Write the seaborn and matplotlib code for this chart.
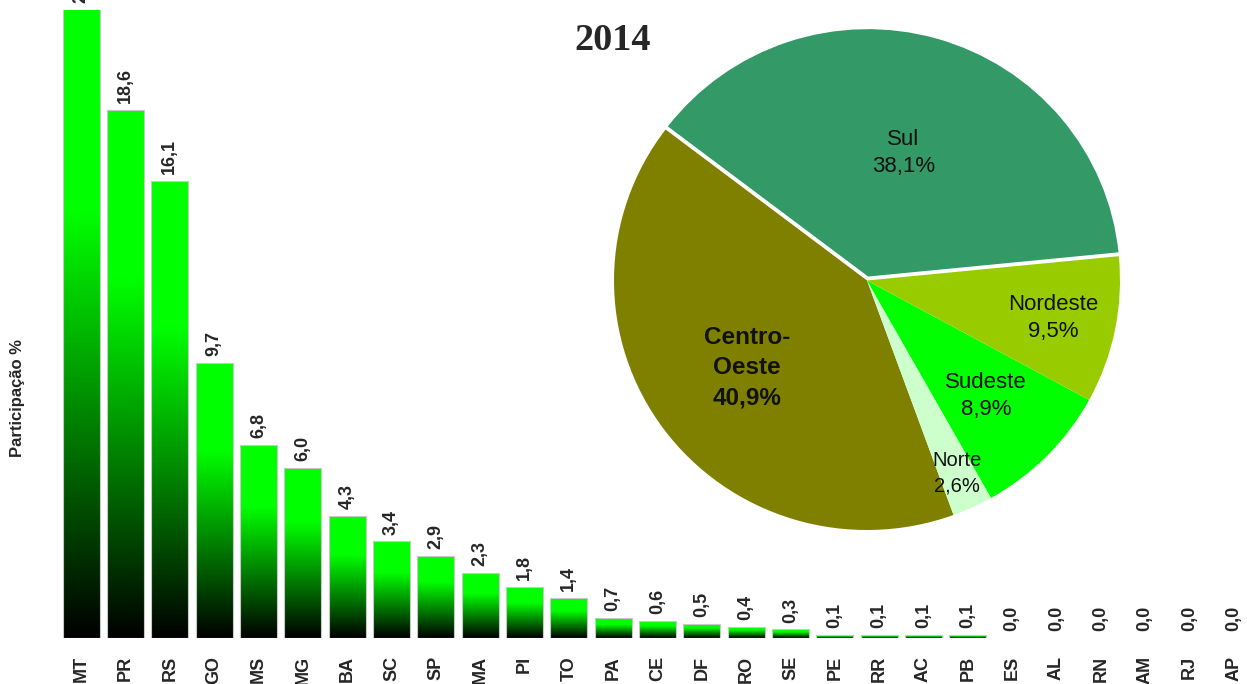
import numpy as np
import matplotlib
matplotlib.use("Agg")
import matplotlib.pyplot as plt
from matplotlib.colors import LinearSegmentedColormap
import seaborn as sns

# participação por estado (%)
states = ["MT", "PR", "RS", "GO", "MS", "MG", "BA", "SC", "SP", "MA", "PI", "TO", "PA", "CE",
          "DF", "RO", "SE", "PE", "RR", "AC", "PB", "ES", "AL", "RN", "AM", "RJ", "AP"]
shares = [23.9, 18.6, 16.1, 9.7, 6.8, 6.0, 4.3, 3.4, 2.9, 2.3, 1.8, 1.4, 0.7, 0.6,
          0.5, 0.4, 0.3, 0.1, 0.1, 0.1, 0.1, 0.0, 0.0, 0.0, 0.0, 0.0, 0.0]

# participação por região (%)
regions = ["Sul", "Centro-Oeste", "Norte", "Sudeste", "Nordeste"]
region_shares = [38.1, 40.9, 2.6, 8.9, 9.5]
region_colors = ["#339966", "#808000", "#CCFFCC", "#00FF00", "#99CC00"]

year = "2014"

sns.set_style("white")
plt.rcParams["font.family"] = ["Liberation Sans", "DejaVu Sans"]

W, H = 1247, 684
fig = plt.figure(figsize=(W / 100, H / 100), dpi=100)

# --- barras ---
ax = fig.add_axes([59 / W, 46 / H, 1197 / W, 628 / H])
ax.set_facecolor("none")
sns.barplot(x=states, y=shares, ax=ax, width=0.84, color="white")
ax.set_xlim(-0.5, len(states) - 0.5)
ax.set_ylim(0, 22.12)
top = ax.get_ylim()[1]

cmap = LinearSegmentedColormap.from_list("verde", [(0, "#000000"), (0.68, "#00FF00"), (1, "#00FF00")])
grad = np.linspace(0, 1, 256).reshape(-1, 1)
for patch, v in zip(ax.patches, shares):
    x0, w, h = patch.get_x(), patch.get_width(), patch.get_height()
    patch.set_facecolor("none")
    patch.set_zorder(3)
    if v > 0:
        patch.set_edgecolor("#c8c8c8")
        patch.set_linewidth(0.8)
        im = ax.imshow(grad, extent=[x0, x0 + w, 0, min(h, top)], origin="lower", cmap=cmap,
                       aspect="auto", zorder=2, interpolation="bilinear")
        im.set_clip_path(patch)
    else:
        patch.set_linewidth(0)

ax.set_xlim(-0.5, len(states) - 0.5)
ax.set_ylim(0, top)

for i, v in enumerate(shares):
    ax.annotate(f"{v:.1f}".replace(".", ","), (i, min(v, top)), xytext=(0, 5),
                textcoords="offset points", rotation=90, ha="center", va="bottom",
                fontsize=13, fontweight="bold", annotation_clip=False)

ax.set_xlabel("")
ax.set_ylabel("")
ax.set_yticks([])
ax.tick_params(axis="x", length=0, pad=13)
for lab in ax.get_xticklabels():
    lab.set_rotation(90)
    lab.set_fontsize(13)
    lab.set_fontweight("bold")
sns.despine(ax=ax, left=True, bottom=True)

fig.text(18 / W, 1 - 398 / H, "Participação %", rotation=90, ha="center", va="center",
         fontsize=12, fontweight="bold")

# --- pizza ---
pax = fig.add_axes([614 / W, (H - 530) / H, 506 / W, 499 / H])
wedges, _ = pax.pie(region_shares, colors=region_colors, startangle=5.6, counterclock=True,
                    explode=[0.012, 0, 0, 0, 0], wedgeprops=dict(linewidth=0))
wedges[0].set_edgecolor("white")
wedges[0].set_linewidth(1.5)
pax.set_aspect("auto")
pax.set_xlim(-1, 1)
pax.set_ylim(-1, 1)

label_r = [0.53, 0.59, 0.85, 0.66, 0.75]
label_size = [16, 17.5, 14.5, 16, 16]
for wdg, name, v, r, fs in zip(wedges, regions, region_shares, label_r, label_size):
    th = np.deg2rad((wdg.theta1 + wdg.theta2) / 2)
    txt = name.replace("-", "-\n") + "\n" + f"{v:.1f}%".replace(".", ",")
    pax.text(r * np.cos(th), r * np.sin(th), txt, ha="center", va="center",
             fontsize=fs, color="#111111", linespacing=1.4,
             fontweight="bold" if name == "Centro-Oeste" else "normal")

fig.text(613 / W, 1 - 40 / H, year, ha="center", va="center", family="Liberation Serif",
         fontsize=27.5, fontweight="bold")

fig.savefig("out.png", dpi=100)
